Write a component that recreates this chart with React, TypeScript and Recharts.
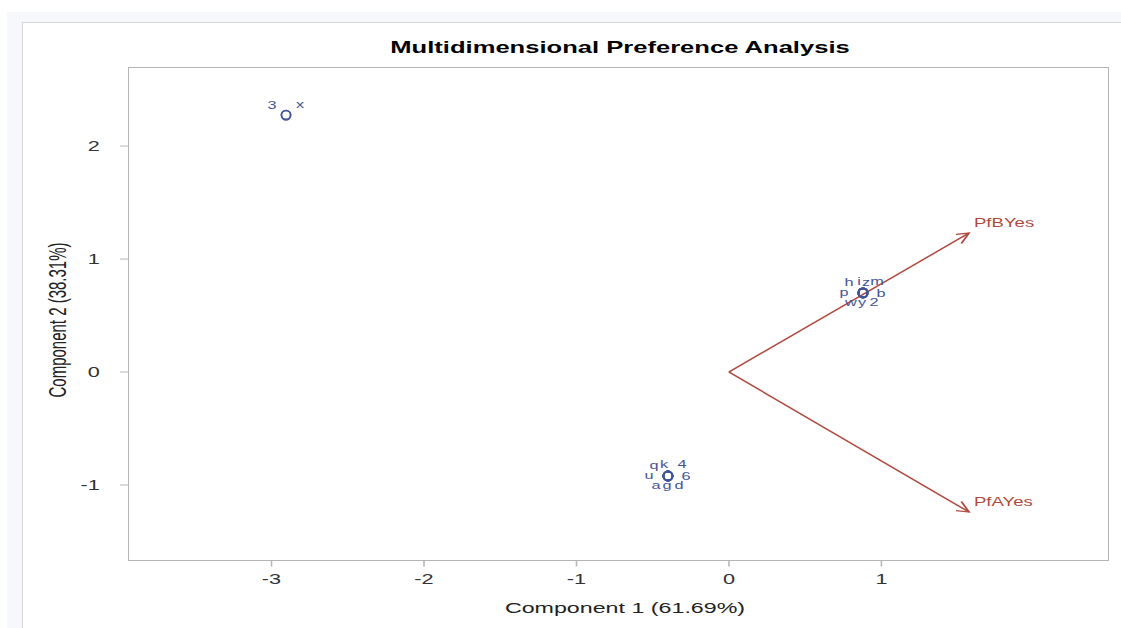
import React from "react";
import { ScatterChart, Scatter, XAxis, YAxis, ReferenceLine } from "recharts";

// ---------------- data ----------------
const obsLabels = ["3", "x", "h", "i", "z", "m", "p", "b", "w", "y", "2", "q", "k", "4", "u", "6", "a", "g", "d"];
const obsX = [-2.905, -2.905, 0.879, 0.879, 0.879, 0.879, 0.879, 0.879, 0.879, 0.879, 0.879, -0.4, -0.4, -0.4, -0.4, -0.4, -0.4, -0.4, -0.4];
const obsY = [2.274, 2.274, 0.7, 0.7, 0.7, 0.7, 0.7, 0.7, 0.7, 0.7, 0.7, -0.92, -0.92, -0.92, -0.92, -0.92, -0.92, -0.92, -0.92];
const obsLabelPos = ["NW", "NE", "NW", "N", "NNE", "NE", "W", "E", "SW", "S", "SE", "NW", "N", "NE", "W", "E", "SW", "S", "SE"];

const vectorNames = ["PfBYes", "PfAYes"];
const vectorX = [1.574, 1.574];
const vectorY = [1.23, -1.239];

const xTicks = [-3, -2, -1, 0, 1];
const yTicks = [-1, 0, 1, 2];
const xDomain = [-3.938, 2.489];
const yDomain = [-1.668, 2.695];

const TITLE = "Multidimensional Preference Analysis";
const X_LABEL = "Component 1 (61.69%)";
const Y_LABEL = "Component 2 (38.31%)";

// ---------------- layout / style ----------------
const W = 1121;
const H = 628;
const S = 1.55; // horizontal stretch of the reference
const VW = W / S;
const PLOT_L = 128.5;
const PLOT_R = 1108.5;
const PLOT_T = 67.5;
const PLOT_B = 560.5;
const Y_AXIS_W = 40;
const X_AXIS_H = 40;

const BLUE = "#44549a";
const RED = "#b04a3f";
const AXIS = "#b5b5b5";
const FONT = "'Liberation Sans', Arial, sans-serif";

const OFF: Record<string, [number, number]> = {
  NW: [-14, -10],
  N: [-4, -11],
  NNE: [3, -10],
  NE: [14, -11],
  W: [-19, 0],
  E: [18, 1],
  SW: [-12, 10],
  S: [-1, 10],
  SE: [11, 10],
};

const points = obsLabels.map((label, i) => ({
  x: obsX[i],
  y: obsY[i],
  label,
  pos: obsLabelPos[i],
}));

function ObsShape(props: any) {
  const { cx, cy, payload } = props;
  if (cx == null || cy == null) return null;
  const [dx, dy] = OFF[payload.pos] || [0, 0];
  return (
    <g>
      <g transform={`translate(${cx},${cy}) scale(${1 / S},1)`}>
        <circle r={4.6} fill="none" stroke={BLUE} strokeWidth={1.6} />
      </g>
      <text
        x={cx + dx / S}
        y={cy + dy}
        textAnchor="middle"
        dominantBaseline="central"
        fontSize={10.5}
        fill={BLUE}
        fontFamily={FONT}
      >
        {payload.label}
      </text>
    </g>
  );
}

function makeVector(name: string) {
  return (p: any) => {
    const { x1, y1, x2, y2 } = p;
    if (x1 == null) return null;
    const rx1 = x1 * S;
    const rx2 = x2 * S;
    const ang = Math.atan2(y2 - y1, rx2 - rx1);
    const L = 13;
    const A = 0.42;
    const ax1 = rx2 - L * Math.cos(ang - A);
    const ay1 = y2 - L * Math.sin(ang - A);
    const ax2 = rx2 - L * Math.cos(ang + A);
    const ay2 = y2 - L * Math.sin(ang + A);
    return (
      <g>
        <line x1={x1} y1={y1} x2={x2} y2={y2} stroke={RED} strokeWidth={1.3} />
        <polyline
          points={`${ax1 / S},${ay1} ${x2},${y2} ${ax2 / S},${ay2}`}
          fill="none"
          stroke={RED}
          strokeWidth={1.3}
        />
        <text
          x={x2 + 5 / S}
          y={y2 - 10.5}
          dominantBaseline="central"
          fontSize={12}
          fill={RED}
          fontFamily={FONT}
        >
          {name}
        </text>
      </g>
    );
  };
}

export default function App() {
  return (
    <div style={{ position: "absolute", left: 0, top: 0, width: W, height: H, overflow: "hidden", background: "#fff" }}>
      <div style={{ position: "absolute", left: 7, top: 12, width: W - 7, height: H - 12, background: "#f7f8fc" }} />
      <div
        style={{
          position: "absolute",
          left: 22,
          top: 22,
          width: W - 22,
          height: H - 22,
          background: "#fff",
          borderLeft: "1px solid #d6d6d6",
          borderTop: "1px solid #d6d6d6",
          boxSizing: "border-box",
        }}
      />
      <div
        style={{
          position: "absolute",
          left: 128,
          top: 67,
          width: 981,
          height: 494,
          border: `1px solid ${AXIS}`,
          boxSizing: "border-box",
        }}
      />
      <div
        style={{
          position: "absolute",
          left: 0,
          top: 0,
          width: VW,
          height: H,
          transform: `scaleX(${S})`,
          transformOrigin: "0 0",
        }}
      >
        <ScatterChart
          width={VW}
          height={H}
          margin={{
            top: PLOT_T,
            right: (W - PLOT_R) / S,
            bottom: H - PLOT_B - X_AXIS_H,
            left: PLOT_L / S - Y_AXIS_W,
          }}
        >
          <XAxis
            type="number"
            dataKey="x"
            domain={xDomain}
            ticks={xTicks}
            allowDataOverflow
            interval={0}
            axisLine={false}
            tickLine={{ stroke: AXIS }}
            tickSize={6}
            tickMargin={8}
            height={X_AXIS_H}
            tick={{ fill: "#333", fontSize: 14, fontFamily: FONT }}
          />
          <YAxis
            type="number"
            dataKey="y"
            domain={yDomain}
            ticks={yTicks}
            allowDataOverflow
            interval={0}
            axisLine={false}
            tickLine={{ stroke: AXIS }}
            tickSize={5.5}
            tickMargin={13}
            width={Y_AXIS_W}
            tick={{ fill: "#333", fontSize: 14, fontFamily: FONT }}
          />
          {vectorNames.map((name, i) => (
            <ReferenceLine
              key={name}
              segment={[
                { x: 0, y: 0 },
                { x: vectorX[i], y: vectorY[i] },
              ]}
              ifOverflow="visible"
              shape={makeVector(name)}
            />
          ))}
          <Scatter data={points} shape={ObsShape} isAnimationActive={false} />
        </ScatterChart>
        <svg
          width={VW}
          height={H}
          style={{ position: "absolute", left: 0, top: 0, pointerEvents: "none" }}
        >
          <text
            x={620 / S}
            y={48}
            textAnchor="middle"
            dominantBaseline="central"
            fontSize={16.5}
            fontWeight="bold"
            fill="#000"
            fontFamily={FONT}
          >
            {TITLE}
          </text>
          <text
            x={625 / S}
            y={608}
            textAnchor="middle"
            dominantBaseline="central"
            fontSize={15}
            fill="#222"
            fontFamily={FONT}
          >
            {X_LABEL}
          </text>
          <text
            x={58 / S}
            y={320}
            textAnchor="middle"
            dominantBaseline="central"
            fontSize={15}
            fill="#222"
            fontFamily={FONT}
            transform={`rotate(-90 ${58 / S} 320)`}
          >
            {Y_LABEL}
          </text>
        </svg>
      </div>
    </div>
  );
}
